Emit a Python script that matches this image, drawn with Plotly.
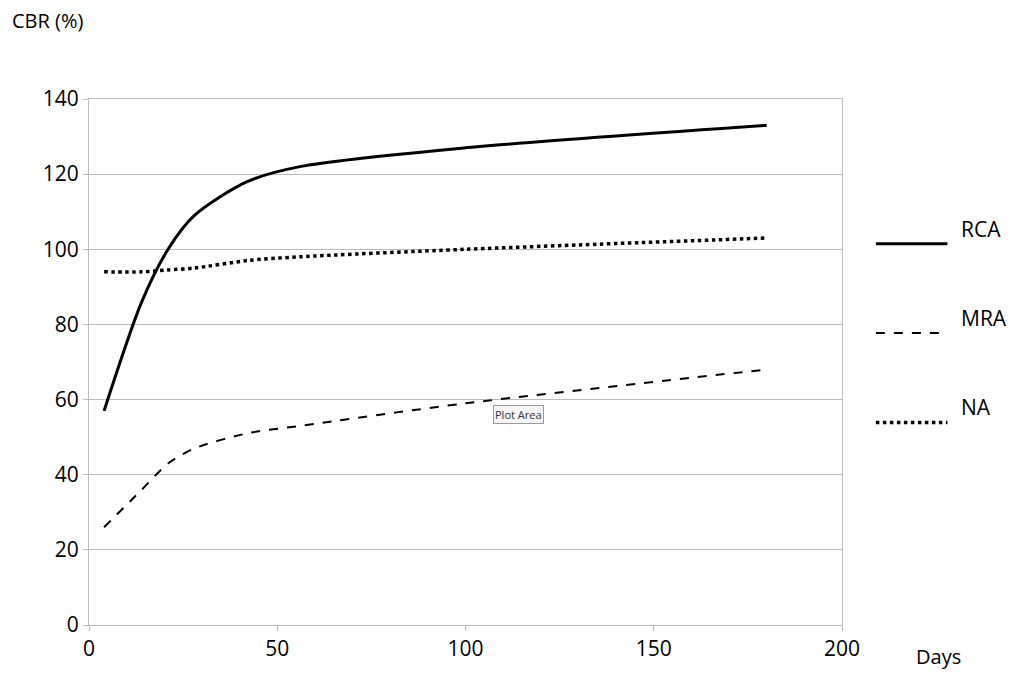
import plotly.graph_objects as go

days = [4, 14, 21, 28, 42, 56, 100, 180]
rca = [57, 86, 100, 109, 118, 122, 127, 133]
mra = [26, 36, 43, 47, 51, 53, 59, 68]
na = [94, 94, 94.5, 95, 97, 98, 100, 103]
series = [("RCA", rca, "solid"), ("MRA", mra, "dash"), ("NA", na, "dot")]

fig = go.Figure()
for name, vals, dash in series:
    w = 3 if name == "RCA" else (2 if name == "MRA" else 3.5)
    fig.add_trace(go.Scatter(x=days, y=vals, mode="lines", name=name,
                             line=dict(color="black", width=w, dash=dash, shape="spline", smoothing=0.8),
                             showlegend=False))

leg_y = [0.725, 0.555, 0.385]
for (name, vals, dash), yy in zip(series, leg_y):
    w = 3 if name == "RCA" else (2 if name == "MRA" else 3.5)
    fig.add_shape(type="line", xref="paper", yref="paper", x0=1.045, x1=1.14, y0=yy, y1=yy,
                  line=dict(color="black", width=w, dash=dash))
    fig.add_annotation(xref="paper", yref="paper", x=1.155, y=yy, text=name, showarrow=False,
                       xanchor="left", yanchor="middle", yshift=15, font=dict(size=21, color="black"))

fig.add_annotation(xref="paper", yref="paper", x=-0.105, y=1.12, text="CBR (%)", showarrow=False,
                   xanchor="left", yanchor="bottom", font=dict(size=20, color="black"))
fig.add_annotation(xref="paper", yref="paper", x=1.095, y=-0.03, text="Days", showarrow=False,
                   xanchor="left", yanchor="top", font=dict(size=20, color="black"))
fig.add_annotation(x=114, y=56, text="Plot Area", showarrow=False, bgcolor="#f5f5f5",
                   bordercolor="#999999", borderwidth=1, font=dict(size=11, color="#333"))

fig.update_layout(
    width=1024, height=684, paper_bgcolor="white", plot_bgcolor="white",
    margin=dict(l=81, r=190, t=91, b=67),
    font=dict(family="Open Sans, Liberation Sans, sans-serif", size=21, color="black"),
    xaxis=dict(range=[0, 200], tickvals=[0, 50, 100, 150, 200], showgrid=False, zeroline=False,
               showline=True, linecolor="#bbbbbb", mirror=True, ticks="outside", ticklen=5, tickcolor="#bbbbbb"),
    yaxis=dict(range=[0, 140], tickvals=list(range(0, 141, 20)), showgrid=True, gridcolor="#bbbbbb",
               zeroline=False, showline=True, linecolor="#bbbbbb", mirror=True, ticks="outside",
               ticklen=5, tickcolor="#bbbbbb"),
)
fig.write_html("out.html")
